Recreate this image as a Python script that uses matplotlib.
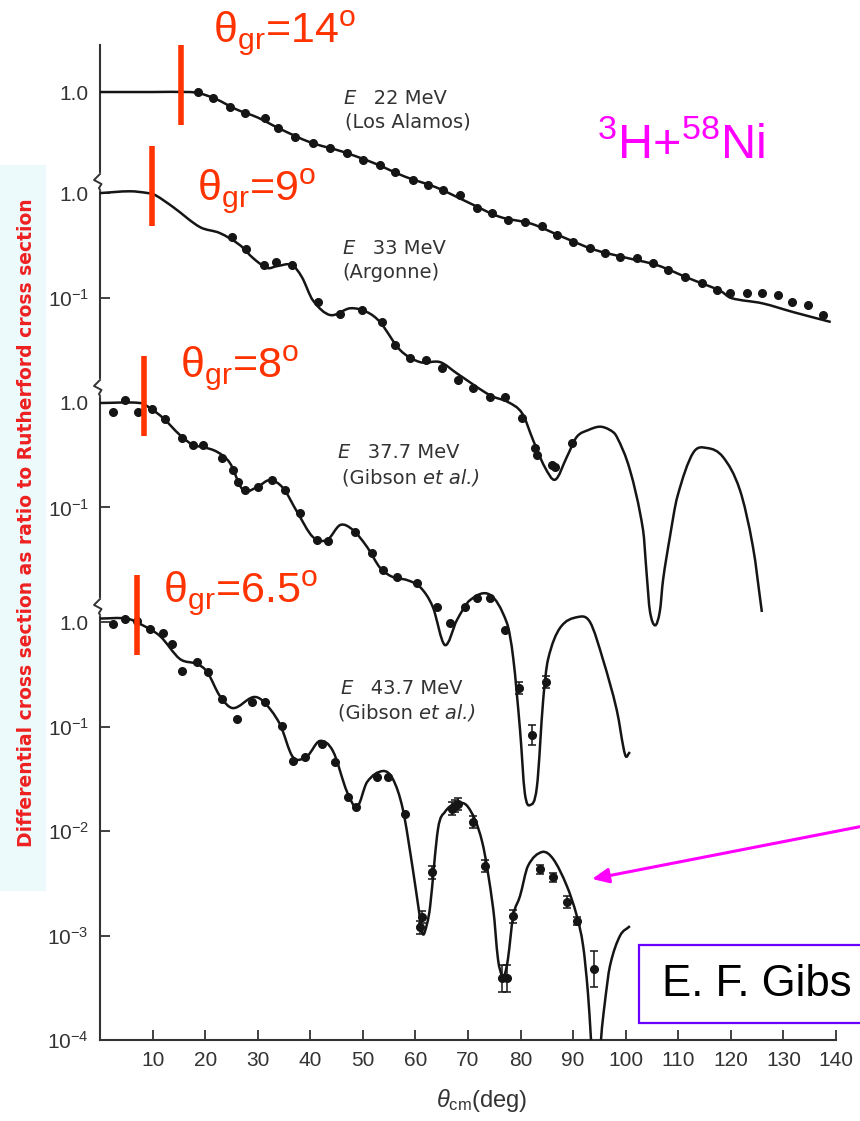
import matplotlib
matplotlib.use("Agg")
import matplotlib.pyplot as plt
import numpy as np
from matplotlib.patches import Rectangle, PathPatch
from matplotlib.path import Path
from matplotlib.ticker import NullLocator

plt.rcParams["font.family"] = ["Liberation Sans", "DejaVu Sans"]
plt.rcParams["mathtext.fontset"] = "custom"
plt.rcParams["mathtext.rm"] = "Liberation Sans"
plt.rcParams["mathtext.it"] = "Liberation Sans:italic"
plt.rcParams["mathtext.bf"] = "Liberation Sans:bold"

# ---- data (theta_cm in deg, ratio to Rutherford) ----
# 22 MeV (Los Alamos)
e22_line_deg = [0, 10, 17, 19, 22, 26, 30, 34, 40, 46, 52, 58, 64, 70, 76, 82,
                88, 94, 100, 106, 112, 118, 120, 126, 132, 139]
e22_line_val = [1.0, 1.0, 1.0, 0.97, 0.86, 0.68, 0.57, 0.45, 0.33, 0.27, 0.21,
                0.155, 0.122, 0.088, 0.064, 0.055, 0.041, 0.031, 0.026, 0.022,
                0.0165, 0.0125, 0.0107, 0.0095, 0.0078, 0.0063]
e22_pt_deg = [18.6, 21.5, 24.7, 27.6, 31.4, 33.9, 37.1, 40.5, 43.8, 47.0, 50.0,
              53.3, 56.1, 59.5, 62.4, 65.2, 68.5, 71.7, 74.6, 77.6, 80.8, 84.1,
              86.9, 90.0, 93.2, 96.1, 98.9, 102.1, 105.2, 108.0, 111.3, 114.5,
              117.4, 119.8, 123.1, 125.9, 129.0, 131.6, 134.7, 137.5]
e22_pt_val = [1.0, 0.88, 0.72, 0.63, 0.56, 0.45, 0.37, 0.325, 0.29, 0.26, 0.224,
              0.20, 0.171, 0.144, 0.129, 0.115, 0.103, 0.0776, 0.0695, 0.0596,
              0.057, 0.052, 0.0428, 0.0367, 0.0321, 0.0288, 0.0264, 0.0258,
              0.0231, 0.0198, 0.017, 0.0149, 0.0127, 0.0119, 0.0119, 0.0119,
              0.0114, 0.0098, 0.0092, 0.0073]

# 33 MeV (Argonne)
e33_line_deg = [0, 5.7, 9.1, 10.5, 13.9, 19.0, 22.8, 26.6, 29.1, 31.8, 33.7, 36.5,
                38.4, 40.5, 43.8, 47.6, 50.8, 53.3, 57.1, 60.9, 64.7, 67.9, 74.2,
                77.6, 80.3, 82.4, 84.6, 86.6, 88.8, 90.7, 92.9, 95.1, 97.0, 98.3,
                100.8, 103.3, 104.0, 104.6, 105.6, 106.5, 107.1, 108.4, 109.8,
                112.8, 115.5, 118.5, 121.7, 124.2, 125.9]
e33_line_val = [1.0, 1.04, 1.0, 0.957, 0.735, 0.473, 0.414, 0.318, 0.239, 0.192,
                0.2, 0.205, 0.157, 0.094, 0.068, 0.079, 0.0726, 0.058, 0.0314,
                0.0241, 0.0241, 0.0188, 0.0116, 0.01, 0.0078, 0.0043, 0.00239,
                0.00181, 0.00298, 0.00465, 0.0054, 0.00581, 0.0054, 0.00465,
                0.00224, 0.000596, 0.000221, 0.0001, 7.3e-5, 0.0001, 0.000198,
                0.00051, 0.00123, 0.00325, 0.00363, 0.00298, 0.00145, 0.000412,
                9.8e-5]
e33_pt_deg = [25.1, 27.8, 31.2, 33.5, 36.5, 41.5, 45.6, 49.8, 53.6, 56.1, 58.9,
              62.0, 65.0, 68.1, 71.0, 74.2, 77.1, 80.2, 82.7, 83.1, 85.9, 86.6,
              89.8]
e33_pt_val = [0.38, 0.29, 0.205, 0.219, 0.205, 0.0906, 0.0695, 0.0759, 0.0583,
              0.0351, 0.0264, 0.0252, 0.0212, 0.0162, 0.0136, 0.0112, 0.0112,
              0.00703, 0.00363, 0.00311, 0.00249, 0.00239, 0.00405]

# 37.7 MeV (Gibson et al.)
e377_line_deg = [0, 7.6, 9.5, 12.0, 15.2, 17.7, 19.6, 22.3, 24.7, 27.2, 29.9,
                 32.3, 34.8, 37.5, 40.5, 43.2, 45.7, 48.1, 50.8, 53.3, 55.7, 58.4,
                 60.9, 63.3, 65.6, 67.9, 70.4, 74.2, 77.4, 78.6, 79.9, 80.8, 81.8,
                 83.1, 84.3, 85.2, 87.5, 90.9, 93.2, 95.7, 98.3, 99.9, 100.8]
e377_line_val = [1.0, 1.0, 0.896, 0.718, 0.494, 0.396, 0.379, 0.34, 0.267, 0.147,
                 0.157, 0.183, 0.154, 0.0906, 0.0522, 0.0489, 0.068, 0.061,
                 0.0419, 0.0264, 0.0216, 0.0202, 0.0173, 0.0112, 0.00483,
                 0.00838, 0.013, 0.0146, 0.00785, 0.00363, 0.00074, 0.000186,
                 0.000142, 0.000211, 0.00144, 0.00347, 0.00703, 0.00895, 0.00802,
                 0.00347, 0.00115, 0.000428, 0.000457]
e377_pt_deg = [2.5, 4.8, 7.2, 9.9, 12.4, 15.6, 17.7, 19.6, 23.2, 25.3, 26.3, 27.6,
               30.1, 32.7, 35.2, 38.0, 41.3, 43.4, 48.5, 51.7, 53.8, 56.5, 60.3,
               64.1, 66.6, 69.4, 71.7, 74.2, 77.0]
e377_pt_val = [0.82, 1.07, 0.82, 0.877, 0.703, 0.462, 0.396, 0.396, 0.298, 0.229,
               0.175, 0.147, 0.157, 0.183, 0.147, 0.0886, 0.0489, 0.0478, 0.0583,
               0.0367, 0.0252, 0.0216, 0.019, 0.0112, 0.00785, 0.0112, 0.0136,
               0.0136, 0.00673]
e377_eb_deg = [79.7, 82.2, 84.8]
e377_eb_val = [0.00187, 0.000665, 0.00214]
e377_eb_fac = [1.15, 1.25, 1.15]

# 43.7 MeV (Gibson et al.)
e437_line_deg = [0, 5.1, 7.6, 11.4, 15.2, 18.5, 20.4, 22.8, 25.3, 29.1, 31.0,
                 34.2, 36.7, 39.4, 41.8, 44.3, 47.0, 48.9, 50.8, 53.8, 55.7, 57.6,
                 59.5, 60.7, 61.4, 62.2, 62.8, 64.3, 65.6, 67.5, 70.0, 72.7, 74.8,
                 75.7, 76.5, 77.0, 77.6, 78.6, 79.9, 81.4, 84.1, 86.2, 88.8, 90.7,
                 91.9, 92.8, 93.4, 94.0, 94.8, 95.3, 96.0, 97.0, 98.9, 100.8]
e437_line_val = [1.08, 1.08, 0.96, 0.735, 0.443, 0.396, 0.332, 0.196, 0.15, 0.191,
                 0.175, 0.106, 0.051, 0.0522, 0.0727, 0.0583, 0.0236, 0.017,
                 0.0294, 0.0375, 0.0315, 0.0162, 0.00433, 0.00168, 0.00103,
                 0.00129, 0.00191, 0.0105, 0.0152, 0.0181, 0.017, 0.00785,
                 0.00179, 0.000596, 0.000409, 0.000428, 0.000596, 0.00154,
                 0.00239, 0.00462, 0.0063, 0.0054, 0.00298, 0.00154, 0.000794,
                 0.000288, 0.0001, 3e-5, 3e-5, 0.0001, 0.000221, 0.00051, 0.00099,
                 0.00123]
e437_pt_deg = [2.5, 4.8, 7.0, 9.5, 12.0, 13.7, 15.6, 18.5, 20.5, 23.2, 26.1, 28.9,
               31.4, 34.6, 36.7, 39.0, 42.2, 44.7, 47.2, 48.7, 52.7, 54.8, 58.0]
e437_pt_val = [0.96, 1.07, 1.02, 0.857, 0.785, 0.616, 0.34, 0.414, 0.332, 0.183,
               0.117, 0.171, 0.171, 0.101, 0.0468, 0.0511, 0.0682, 0.0459, 0.0213,
               0.017, 0.0328, 0.0328, 0.0146]
e437_eb_deg = [60.8, 61.3, 63.2, 67.0, 67.5, 68.1, 71.0, 73.2, 76.5, 77.4, 78.6,
               83.7, 86.2, 88.8, 90.7, 94.0]
e437_eb_val = [0.0012, 0.0015, 0.00403, 0.0163, 0.0174, 0.0181, 0.0122, 0.00464,
               0.000388, 0.000388, 0.00153, 0.0043, 0.0036, 0.00209, 0.00138,
               0.000479]
e437_eb_fac = [1.15, 1.15, 1.15, 1.15, 1.15, 1.15, 1.15, 1.15, 1.35, 1.35, 1.15,
               1.1, 1.1, 1.15, 1.1, 1.5]

# vertical shift of each data set on the shared log axis (decades)
curve_shift = [5.072, 4.105, 2.096, 0.0]
curve_ticks = [[1.0], [1.0, 0.1], [1.0, 0.1], [1.0, 0.1, 0.01, 0.001, 0.0001]]
tick_names = {1.0: "1.0", 0.1: "10$^{-1}$", 0.01: "10$^{-2}$",
              0.001: "10$^{-3}$", 0.0001: "10$^{-4}$"}
theta_gr_text = ["14", "9", "8", "6.5"]
theta_gr_mark = [15.4, 9.9, 8.4, 7.0]
x_ticks = list(range(10, 150, 10))

W, H = 860, 1121


def fx(px):
    return px / W


def fy(py):
    return 1 - py / H


def smooth_path(deg, val, scale):
    # cubic Hermite (drawn as Bezier) through the read points, in log space
    x = np.asarray(deg, float)
    y = np.log10(np.asarray(val, float) * scale)
    m = np.empty(len(x))
    m[1:-1] = (y[2:] - y[:-2]) / (x[2:] - x[:-2])
    m[0] = (y[1] - y[0]) / (x[1] - x[0])
    m[-1] = (y[-1] - y[-2]) / (x[-1] - x[-2])
    verts = [(x[0], 10 ** y[0])]
    codes = [Path.MOVETO]
    for i in range(len(x) - 1):
        h = x[i + 1] - x[i]
        verts += [(x[i] + h / 3, 10 ** (y[i] + m[i] * h / 3)),
                  (x[i + 1] - h / 3, 10 ** (y[i + 1] - m[i + 1] * h / 3)),
                  (x[i + 1], 10 ** y[i + 1])]
        codes += [Path.CURVE4] * 3
    return Path(verts, codes)


fig = plt.figure(figsize=(W / 100, H / 100), dpi=100)
ax = fig.add_axes([fx(100), fy(1040), 736 / W, 995 / H])
ax.patch.set_alpha(0)

ink = "#151515"
axis_col = "#333333"

lines = [(e22_line_deg, e22_line_val), (e33_line_deg, e33_line_val),
         (e377_line_deg, e377_line_val), (e437_line_deg, e437_line_val)]
points = [(e22_pt_deg, e22_pt_val), (e33_pt_deg, e33_pt_val),
          (e377_pt_deg, e377_pt_val), (e437_pt_deg, e437_pt_val)]
ebars = [None, None, (e377_eb_deg, e377_eb_val, e377_eb_fac),
         (e437_eb_deg, e437_eb_val, e437_eb_fac)]

ax.set_yscale("log")
ax.set_xlim(0, 140)
ax.set_ylim(1e-4, 10 ** 5.522)

for k in range(4):
    f = 10 ** curve_shift[k]
    ax.add_patch(PathPatch(smooth_path(lines[k][0], lines[k][1], f), fill=False,
                           edgecolor=ink, lw=1.8, zorder=3))
    ax.plot(points[k][0], np.array(points[k][1]) * f, "o", ms=5.5, color=ink,
            zorder=4)
    if ebars[k] is not None:
        d, v, fac = ebars[k]
        v = np.array(v) * f
        fac = np.array(fac)
        ax.errorbar(d, v, yerr=[v - v / fac, v * fac - v], fmt="o", ms=5.5,
                    color=ink, elinewidth=1.1, capsize=3, capthick=1.1, zorder=4)
    # grazing-angle marker
    ax.vlines(theta_gr_mark[k], 0.48 * f, 2.8 * f, color="#ff3300", lw=4,
              zorder=6)

ax.set_xlim(0, 140)
ax.set_ylim(1e-4, 10 ** 5.522)

yt, yl = [], []
for k in range(4):
    for v in curve_ticks[k]:
        yt.append(v * 10 ** curve_shift[k])
        yl.append(tick_names[v])
ax.set_yticks(yt)
ax.set_yticklabels(yl)
ax.yaxis.set_minor_locator(NullLocator())
ax.set_xticks(x_ticks)
ax.set_xticklabels([str(t) for t in x_ticks])

for s in ["top", "right"]:
    ax.spines[s].set_visible(False)
for s in ["left", "bottom"]:
    ax.spines[s].set_color(axis_col)
    ax.spines[s].set_linewidth(1.5)
ax.tick_params(direction="in", length=7, width=1.3, color=axis_col,
               labelcolor=axis_col, labelsize=15, pad=8)

# axis breaks on the y axis
for yb in [0.8623, 0.6553, 0.4352]:
    dy = 1 / 995
    dx = 1 / 736
    ax.plot([0, 0], [yb - 7 * dy, yb + 7 * dy], color="white", lw=3,
            transform=ax.transAxes, clip_on=False, zorder=5)
    ax.plot([0, -6 * dx, 1.5 * dx, -1 * dx, 0],
            [yb + 8 * dy, yb + 2 * dy, yb - 2 * dy, yb - 6 * dy, yb - 8 * dy],
            color=axis_col, lw=1.4, transform=ax.transAxes, clip_on=False,
            zorder=6)

# y label with pale band behind it
fig.add_artist(Rectangle((0, fy(890)), fx(45), 725 / H, transform=fig.transFigure,
                         color="#edfafc", zorder=0))
fig.text(fx(27), fy(523),
         "Differential cross section as ratio to Rutherford cross section",
         rotation=90, ha="center", va="center", fontsize=13.5,
         fontweight="bold", color="#ee2020", family="DejaVu Sans")
fig.text(fx(482), fy(1100), r"$\theta_{\rm cm}$(deg)", ha="center", va="center",
         fontsize=17, color=axis_col)


def energy_label(x, y, energy, x2, y2, lab, lab_it=None):
    t = fig.text(fx(x), fy(y), "E", style="italic", family="DejaVu Sans",
                 fontsize=14, color=axis_col, va="center")
    ax.annotate("   " + energy, xy=(1, 0.5), xycoords=t, va="center",
                family="DejaVu Sans", fontsize=14, color=axis_col)
    t2 = fig.text(fx(x2), fy(y2), lab, family="DejaVu Sans", fontsize=14,
                  color=axis_col, va="center")
    if lab_it:
        ax.annotate(lab_it, xy=(1, 0.5), xycoords=t2, va="center",
                    family="DejaVu Sans", style="italic", fontsize=14,
                    color=axis_col)


energy_label(343, 98, "22 MeV", 345, 122, "(Los Alamos)")
energy_label(342, 248, "33 MeV", 342, 273, "(Argonne)")
energy_label(337, 452, "37.7 MeV", 342, 478, "(Gibson ", "et al.)")
energy_label(340, 688, "43.7 MeV", 338, 713, "(Gibson ", "et al.)")

# grazing angle labels
gr_pos = [(213, 42), (197, 200), (180, 377), (163, 602)]
for (x, y), txt in zip(gr_pos, theta_gr_text):
    fig.text(fx(x), fy(y), "θ$_{\\rm gr}$=" + txt + "$^{\\rm o}$", fontsize=31,
             color="#ff3300", va="baseline", ha="left")

fig.text(fx(597), fy(158), "$^{3}$H+$^{58}$Ni", fontsize=35, color="#ff00ff",
         va="baseline", ha="left")

ax.annotate("", xy=(fx(592), fy(879)), xycoords="figure fraction",
            xytext=(1.01, fy(825)), textcoords="figure fraction",
            arrowprops=dict(arrowstyle="-|>,head_length=1.0,head_width=0.45",
                            color="#ff00ff", lw=2.2, shrinkA=0, shrinkB=0))

fig.add_artist(Rectangle((fx(639), fy(1023)), 0.3, 78 / H,
                         transform=fig.transFigure, facecolor="white",
                         edgecolor="#6a00ff", lw=1.6, zorder=7))
fig.text(fx(662), fy(985), "E. F. Gibs", fontsize=31.5, color="black",
         va="center", ha="left", zorder=8)

fig.savefig("out.png", dpi=100)
plt.close(fig)
